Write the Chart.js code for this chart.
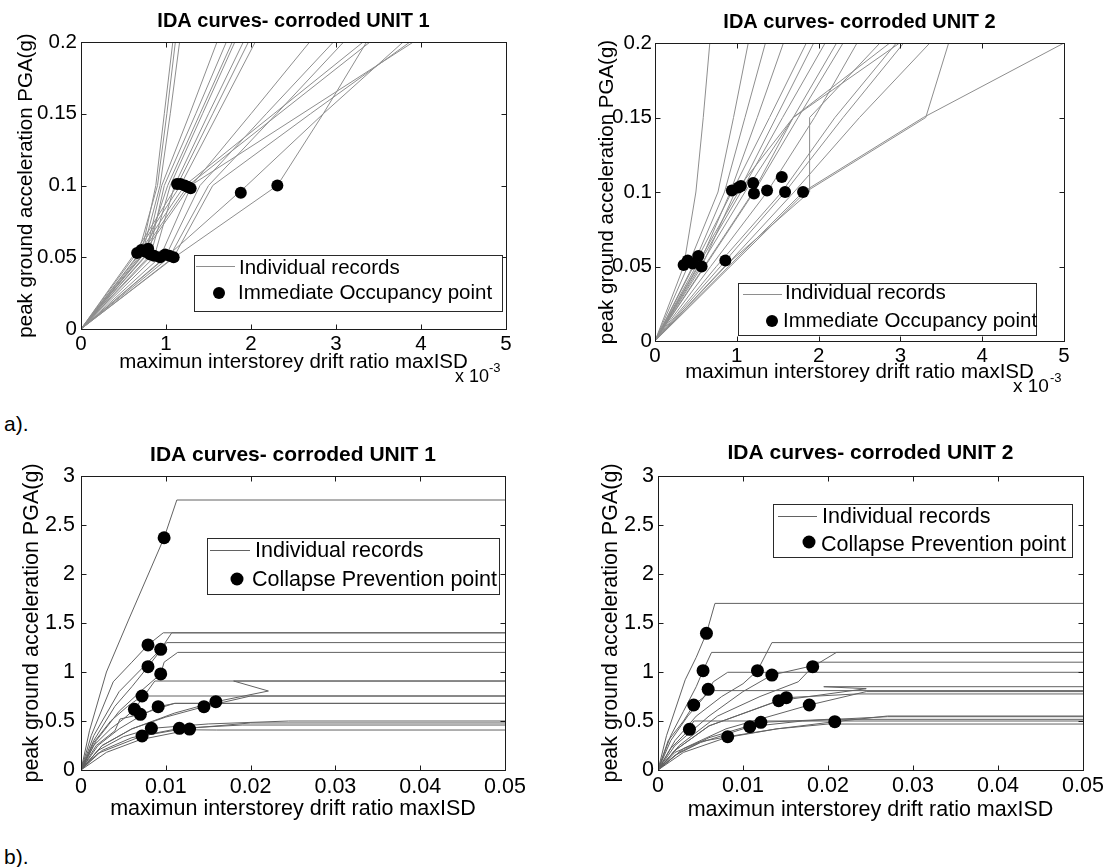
<!DOCTYPE html>
<html>
<head>
<meta charset="utf-8">
<script src="https://cdn.jsdelivr.net/npm/chart.js@4.4.1/dist/chart.umd.min.js"></script>
<style>
  body { margin: 0; background: #fff; width: 1107px; height: 867px; position: relative; overflow: hidden;
         font-family: "Liberation Sans", Arial, Helvetica, sans-serif; }
  canvas { position: absolute; }
  .tag { position: absolute; left: 4px; font-size: 21px; line-height: 1; color: #000; }
</style>
</head>
<body>
<canvas id="a1" width="545" height="410" style="left:0px;top:0px"></canvas>
<canvas id="a2" width="557" height="410" style="left:550px;top:0px"></canvas>
<canvas id="b1" width="545" height="400" style="left:0px;top:440px"></canvas>
<canvas id="b2" width="557" height="400" style="left:550px;top:440px"></canvas>
<div class="tag" style="top:413px">a).</div>
<div class="tag" style="top:846px">b).</div>
<script>
// ---- data ----
// a) panels: drift in units of 10^-3, one row per record, at the PGA steps below
const aPgaLevels = [0, 0.05, 0.1, 0.15, 0.2, 0.25];
const aDriftTicks = [0, 1, 2, 3, 4, 5];
const aPgaTicks = [0, 0.05, 0.1, 0.15, 0.2];

const a1Drift = [
  [0, 0.66, 0.90, 1.01, 1.11, 1.21],
  [0, 0.71, 0.93, 1.05, 1.16, 1.27],
  [0, 0.75, 0.95, 1.28, 1.60, 1.92],
  [0, 0.79, 0.98, 1.35, 1.71, 2.07],
  [0, 0.81, 1.05, 1.43, 1.81, 2.19],
  [0, 0.86, 1.10, 1.50, 1.91, 2.32],
  [0, 0.93, 1.30, 2.00, 2.69, 3.38],
  [0, 0.99, 1.40, 2.18, 2.97, 3.76],
  [0, 1.04, 1.50, 2.30, 3.09, 3.88],
  [0, 1.09, 1.55, 2.70, 3.87, 5.00],
  [0, 0.60, 1.13, 1.55, 1.97, 2.39],
  [0, 0.62, 1.17, 1.61, 2.05, 2.49],
  [0, 0.65, 1.22, 2.27, 3.32, 4.37],
  [0, 0.68, 1.26, 2.33, 3.40, 4.47],
  [0, 0.70, 1.29, 2.60, 3.91, 5.20],
  [0, 1.00, 1.95, 2.85, 3.79, 4.70],
  [0, 1.10, 2.31, 2.85, 3.36, 3.87],
  [0, 0.70, 0.88, 0.98, 1.08, 1.18],
  [0, 0.74, 1.02, 1.40, 1.78, 2.16]
];
const a1IoDrift = [0.66, 0.71, 0.75, 0.79, 0.81, 0.86, 0.93, 0.99, 1.04, 1.09, 1.13, 1.17, 1.22, 1.26, 1.29, 1.88, 2.31];
const a1IoPga   = [0.053, 0.055, 0.054, 0.056, 0.052, 0.051, 0.050, 0.052, 0.051, 0.050, 0.101, 0.101, 0.100, 0.099, 0.098, 0.095, 0.100];

const a2Drift = [
  [0, 0.35, 0.50, 0.59, 0.67, 0.75],
  [0, 0.40, 0.77, 0.96, 1.14, 1.33],
  [0, 0.46, 0.85, 1.10, 1.35, 1.60],
  [0, 0.53, 0.92, 1.25, 1.57, 1.90],
  [0, 0.57, 0.98, 1.69, 2.87, 4.00],
  [0, 0.86, 1.70, 2.50, 3.36, 4.20],
  [0, 0.47, 0.94, 1.40, 1.85, 2.30],
  [0, 0.50, 1.02, 1.48, 1.94, 2.40],
  [0, 0.52, 1.05, 1.56, 2.08, 2.60],
  [0, 0.60, 1.20, 1.69, 2.22, 2.75],
  [0, 0.61, 1.21, 1.75, 2.30, 2.85],
  [0, 0.68, 1.37, 1.95, 2.47, 3.00],
  [0, 0.75, 1.55, 2.20, 2.95, 3.70],
  [0, 0.80, 1.59, 2.30, 3.04, 3.80],
  [0, 0.90, 1.81, 3.28, 5.00, 6.70],
  [0, 0.92, 1.84, 3.31, 3.59, 3.90],
  [0, 0.85, 1.89, 1.89, 2.75, 3.60],
  [0, 0.55, 1.10, 1.69, 2.99, 4.30]
];
const a2IoDrift = [0.35, 0.40, 0.46, 0.53, 0.57, 0.86, 0.94, 1.02, 1.05, 1.20, 1.21, 1.37, 1.55, 1.59, 1.81];
const a2IoPga   = [0.051, 0.054, 0.052, 0.057, 0.050, 0.054, 0.101, 0.103, 0.104, 0.106, 0.099, 0.101, 0.110, 0.100, 0.100];

// b) panels: drift ratio and PGA pairs per record
const bDriftTicks = [0, 0.01, 0.02, 0.03, 0.04, 0.05];
const bPgaTicks = [0, 0.5, 1, 1.5, 2, 2.5, 3];

const b1Drift = [
  [0, 0.0010, 0.0030, 0.0056, 0.0098, 0.0113, 0.05],
  [0, 0.0012, 0.0038, 0.0060, 0.0079, 0.0097, 0.05],
  [0, 0.0015, 0.0045, 0.0070, 0.0094, 0.0107, 0.05],
  [0, 0.0015, 0.0040, 0.0060, 0.0079, 0.0101, 0.05],
  [0, 0.0018, 0.0045, 0.0070, 0.0094, 0.0098, 0.0114, 0.05],
  [0, 0.0015, 0.0035, 0.0055, 0.0072, 0.0077, 0.05],
  [0, 0.0015, 0.0035, 0.0050, 0.0063, 0.0087, 0.05],
  [0, 0.0018, 0.0040, 0.0046, 0.0070, 0.0110, 0.05],
  [0, 0.0020, 0.0045, 0.0070, 0.0091, 0.0111, 0.05],
  [0, 0.0025, 0.0060, 0.0100, 0.0145, 0.0200, 0.05],
  [0, 0.0025, 0.0060, 0.0110, 0.0159, 0.0221, 0.0180, 0.05],
  [0, 0.0020, 0.0050, 0.0083, 0.0150, 0.0245, 0.05],
  [0, 0.0025, 0.0060, 0.0116, 0.0190, 0.05],
  [0, 0.0030, 0.0070, 0.0128, 0.0160, 0.05],
  [0, 0.0020, 0.0072, 0.0120, 0.0200, 0.05]
];
const b1Pga = [
  [0, 0.40, 1.00, 1.53, 2.37, 2.755, 2.755],
  [0, 0.35, 0.90, 1.10, 1.276, 1.40, 1.40],
  [0, 0.35, 0.80, 1.02, 1.231, 1.40, 1.40],
  [0, 0.30, 0.65, 0.85, 1.054, 1.30, 1.30],
  [0, 0.30, 0.60, 0.80, 0.98, 1.10, 1.20, 1.20],
  [0, 0.28, 0.50, 0.65, 0.755, 0.755, 0.755],
  [0, 0.25, 0.42, 0.52, 0.619, 0.908, 0.908],
  [0, 0.25, 0.40, 0.52, 0.568, 0.68, 0.68],
  [0, 0.25, 0.42, 0.55, 0.646, 0.68, 0.68],
  [0, 0.25, 0.42, 0.54, 0.646, 0.755, 0.755],
  [0, 0.25, 0.42, 0.58, 0.697, 0.806, 0.908, 0.908],
  [0, 0.20, 0.34, 0.425, 0.47, 0.50, 0.50],
  [0, 0.20, 0.33, 0.425, 0.459, 0.459],
  [0, 0.18, 0.31, 0.41, 0.408, 0.408],
  [0, 0.17, 0.347, 0.42, 0.48, 0.48]
];
const b1CpDrift = [0.0098, 0.0079, 0.0094, 0.0079, 0.0094, 0.0072, 0.0063, 0.0070, 0.0091, 0.0145, 0.0159, 0.0083, 0.0116, 0.0128, 0.0072];
const b1CpPga   = [2.37, 1.276, 1.231, 1.054, 0.98, 0.755, 0.619, 0.568, 0.646, 0.646, 0.697, 0.425, 0.425, 0.418, 0.347];

const b2Drift = [
  [0, 0.0010, 0.0032, 0.0045, 0.0057, 0.0067, 0.05],
  [0, 0.0015, 0.0030, 0.0045, 0.0053, 0.0063, 0.05],
  [0, 0.0015, 0.0035, 0.0052, 0.0059, 0.05],
  [0, 0.0012, 0.0030, 0.0042, 0.0055, 0.0065, 0.0082, 0.05],
  [0, 0.0015, 0.0037, 0.0042, 0.05],
  [0, 0.0020, 0.0050, 0.0082, 0.0140, 0.0200, 0.05],
  [0, 0.0020, 0.0050, 0.0108, 0.0170, 0.0270, 0.05],
  [0, 0.0025, 0.0060, 0.0121, 0.0200, 0.05],
  [0, 0.0020, 0.0045, 0.0075, 0.0100, 0.0117, 0.0134, 0.05],
  [0, 0.0020, 0.0060, 0.0100, 0.0134, 0.0175, 0.0183, 0.05],
  [0, 0.0025, 0.0070, 0.0120, 0.0165, 0.0182, 0.0210, 0.05],
  [0, 0.0020, 0.0060, 0.0142, 0.0245, 0.0195, 0.05],
  [0, 0.0020, 0.0060, 0.0151, 0.0234, 0.05],
  [0, 0.0030, 0.0080, 0.0178, 0.0245, 0.05],
  [0, 0.0030, 0.0080, 0.0140, 0.0208, 0.0270, 0.05]
];
const b2Pga = [
  [0, 0.35, 0.92, 1.15, 1.395, 1.70, 1.70],
  [0, 0.35, 0.60, 0.85, 1.014, 1.20, 1.20],
  [0, 0.30, 0.55, 0.72, 0.81, 0.81],
  [0, 0.30, 0.50, 0.663, 0.75, 0.90, 0.997, 0.997],
  [0, 0.22, 0.415, 0.50, 0.50],
  [0, 0.18, 0.29, 0.34, 0.42, 0.469, 0.469],
  [0, 0.15, 0.28, 0.442, 0.50, 0.544, 0.544],
  [0, 0.18, 0.33, 0.486, 0.517, 0.517],
  [0, 0.30, 0.55, 0.75, 0.88, 1.014, 1.30, 1.30],
  [0, 0.25, 0.55, 0.80, 0.969, 1.05, 1.10, 1.10],
  [0, 0.25, 0.55, 0.75, 0.90, 1.054, 1.20, 1.20],
  [0, 0.20, 0.45, 0.707, 0.83, 0.85, 0.85],
  [0, 0.20, 0.45, 0.738, 0.776, 0.776],
  [0, 0.22, 0.42, 0.663, 0.80, 0.80],
  [0, 0.18, 0.33, 0.42, 0.493, 0.551, 0.551]
];
const b2CpDrift = [0.0057, 0.0053, 0.0059, 0.0042, 0.0037, 0.0082, 0.0108, 0.0121, 0.0117, 0.0134, 0.0182, 0.0142, 0.0151, 0.0178, 0.0208];
const b2CpPga   = [1.395, 1.014, 0.823, 0.663, 0.415, 0.340, 0.442, 0.486, 1.014, 0.969, 1.054, 0.707, 0.738, 0.663, 0.493];

// ---- drawing ----
const FONT = '"Liberation Sans", Arial, Helvetica, sans-serif';

// MATLAB-like box, inward ticks, legend and exponent label
const matlabAxes = {
  id: 'matlabAxes',
  afterDatasetsDraw(chart, args, o) {
    const ctx = chart.ctx, a = chart.chartArea;
    const xs = chart.scales.x, ys = chart.scales.y;
    const L = Math.round(a.left) + 0.5, R = Math.round(a.right) + 0.5;
    const T = Math.round(a.top) + 0.5, B = Math.round(a.bottom) + 0.5;
    ctx.save();
    ctx.strokeStyle = '#1c1c1c';
    ctx.lineWidth = 1;
    ctx.strokeRect(L, T, R - L, B - T);
    ctx.beginPath();
    xs.ticks.forEach(t => {
      const p = Math.round(xs.getPixelForValue(t.value)) + 0.5;
      ctx.moveTo(p, B); ctx.lineTo(p, B - 5);
      ctx.moveTo(p, T); ctx.lineTo(p, T + 5);
    });
    ys.ticks.forEach(t => {
      const p = Math.round(ys.getPixelForValue(t.value)) + 0.5;
      ctx.moveTo(L, p); ctx.lineTo(L + 5, p);
      ctx.moveTo(R, p); ctx.lineTo(R - 5, p);
    });
    ctx.stroke();

    ctx.fillStyle = '#000';
    ctx.textBaseline = 'middle';
    ctx.textAlign = 'left';
    if (o.exp) {
      ctx.font = o.exp[4] + 'px ' + FONT;
      ctx.fillText('x 10', o.exp[0] - o.ox, o.exp[1] - o.oy);
      ctx.font = '13px ' + FONT;
      ctx.fillText('-3', o.exp[2] - o.ox, o.exp[3] - o.oy);
    }

    const g = o.legend;
    const bx = g.box[0] - o.ox + 0.5, by = g.box[1] - o.oy + 0.5;
    ctx.fillStyle = '#fff';
    ctx.fillRect(bx, by, g.box[2] - g.box[0], g.box[3] - g.box[1]);
    ctx.strokeStyle = '#2a2a2a';
    ctx.strokeRect(bx, by, g.box[2] - g.box[0], g.box[3] - g.box[1]);
    ctx.strokeStyle = o.lineColor;
    ctx.beginPath();
    ctx.moveTo(g.line[0] - o.ox, g.line[2] - o.oy + 0.5);
    ctx.lineTo(g.line[1] - o.ox, g.line[2] - o.oy + 0.5);
    ctx.stroke();
    ctx.fillStyle = '#000';
    ctx.beginPath();
    ctx.arc(g.marker[0] - o.ox, g.marker[1] - o.oy, o.dotR, 0, Math.PI * 2);
    ctx.fill();
    ctx.font = o.size + 'px ' + FONT;
    ctx.fillText('Individual records', g.text1[0] - o.ox, g.text1[1] - o.oy);
    ctx.fillText(o.pointLabel, g.text2[0] - o.ox, g.text2[1] - o.oy);
    ctx.restore();
  }
};

const onGrid = (rows, levels) => rows.map(r => r.map((d, j) => ({ x: d, y: levels[j] })));
const onPairs = (xRows, yRows) => xRows.map((r, i) => r.map((d, j) => ({ x: d, y: yRows[i][j] })));
const pts = (xs, ys) => xs.map((x, i) => ({ x: x, y: ys[i] }));
const fmt = v => String(+v.toFixed(3));

const panels = [
  { id: 'a1', ox: 0, oy: 0, w: 545, h: 410, area: [81, 42, 506, 329], size: 20.5, titleSize: 20, titleY: 21,
    title: 'IDA curves- corroded UNIT 1', xMax: 5, yMax: 0.2, xTicks: aDriftTicks, yTicks: aPgaTicks,
    records: onGrid(a1Drift, aPgaLevels), points: pts(a1IoDrift, a1IoPga), pointLabel: 'Immediate Occupancy point',
    lineColor: '#8e8e8e', dotR: 6, yTitleX: 26, yTickPad: 4, xTickY: 344, xTitleY: 362, exp: [455, 377, 489, 368, 18],
    legend: { box: [194, 255, 502, 311], line: [196, 235, 266], text1: [239, 268], marker: [219, 293], text2: [238, 293] } },
  { id: 'a2', ox: 550, oy: 0, w: 557, h: 410, area: [655, 43, 1064, 341], size: 20.5, titleSize: 20, titleY: 22,
    title: 'IDA curves- corroded UNIT 2', xMax: 5, yMax: 0.2, xTicks: aDriftTicks, yTicks: aPgaTicks,
    records: onGrid(a2Drift, aPgaLevels), points: pts(a2IoDrift, a2IoPga), pointLabel: 'Immediate Occupancy point',
    lineColor: '#8e8e8e', dotR: 6, yTitleX: 607, yTickPad: 3, xTickY: 356, xTitleY: 372, exp: [1013, 387, 1050, 378, 19],
    legend: { box: [738, 283, 1036, 335], line: [743, 782, 294], text1: [785, 293], marker: [772, 321], text2: [783, 321] } },
  { id: 'b1', ox: 0, oy: 440, w: 545, h: 400, area: [81, 476, 505, 770], size: 21.5, titleSize: 21, titleY: 455,
    title: 'IDA curves- corroded UNIT 1', xMax: 0.05, yMax: 3, xTicks: bDriftTicks, yTicks: bPgaTicks,
    records: onPairs(b1Drift, b1Pga), points: pts(b1CpDrift, b1CpPga), pointLabel: 'Collapse Prevention point',
    lineColor: '#626262', dotR: 6.5, yTitleX: 32, yTickPad: 6, xTickY: 787, xTitleY: 809, exp: null,
    legend: { box: [207, 538, 499, 594], line: [210, 250, 550], text1: [255, 551], marker: [237, 579], text2: [252, 580] } },
  { id: 'b2', ox: 550, oy: 440, w: 557, h: 400, area: [658, 476, 1083, 770], size: 21.5, titleSize: 21, titleY: 453,
    title: 'IDA curves- corroded UNIT 2', xMax: 0.05, yMax: 3, xTicks: bDriftTicks, yTicks: bPgaTicks,
    records: onPairs(b2Drift, b2Pga), points: pts(b2CpDrift, b2CpPga), pointLabel: 'Collapse Prevention point',
    lineColor: '#626262', dotR: 6.5, yTitleX: 611, yTickPad: 4, xTickY: 786, xTitleY: 810, exp: null,
    legend: { box: [773, 504, 1072, 557], line: [778, 817, 516], text1: [822, 517], marker: [809, 542], text2: [821, 545] } }
];

panels.forEach(p => {
  const half = p.size * 0.6;
  const titlePadTop = p.titleY - p.oy - p.titleSize * 0.6;
  const titlePadBottom = p.area[1] - p.oy - titlePadTop - p.titleSize * 1.2;
  const datasets = [{
    data: p.points, showLine: false, pointRadius: p.dotR, pointHoverRadius: p.dotR,
    pointBackgroundColor: '#000', pointBorderColor: '#000', pointBorderWidth: 0, order: 0
  }];
  p.records.forEach(r => datasets.push({
    data: r, showLine: true, borderColor: p.lineColor, borderWidth: 1, pointRadius: 0,
    pointHoverRadius: 0, tension: 0, fill: false, order: 1
  }));
  const tickFont = { family: FONT, size: p.size };
  new Chart(document.getElementById(p.id), {
    type: 'scatter',
    data: { datasets: datasets },
    options: {
      responsive: false,
      animation: false,
      devicePixelRatio: 1,
      events: [],
      layout: { padding: { left: 0, top: 0, right: p.ox + p.w - p.area[2], bottom: 0 } },
      plugins: {
        legend: { display: false },
        tooltip: { enabled: false },
        title: {
          display: true, text: p.title, fullSize: false, color: '#000',
          font: { family: FONT, size: p.titleSize, weight: 'bold', lineHeight: 1.2 },
          padding: { top: titlePadTop, bottom: titlePadBottom }
        },
        matlabAxes: {
          ox: p.ox, oy: p.oy, size: p.size, exp: p.exp, legend: p.legend, lineColor: p.lineColor,
          dotR: p.dotR, pointLabel: p.pointLabel
        }
      },
      scales: {
        x: {
          type: 'linear', min: 0, max: p.xMax,
          afterBuildTicks: s => { s.ticks = p.xTicks.map(v => ({ value: v })); },
          afterFit: s => { s.height = p.oy + p.h - p.area[3]; },
          ticks: { font: tickFont, color: '#000', padding: p.xTickY - p.area[3] - half, maxRotation: 0, autoSkip: false, callback: fmt },
          grid: { display: false, drawTicks: false },
          border: { display: false },
          title: { display: true, text: 'maximun interstorey drift ratio maxISD', color: '#000', font: tickFont,
                   padding: { top: 0, bottom: p.oy + p.h - p.xTitleY - half } }
        },
        y: {
          type: 'linear', min: 0, max: p.yMax,
          afterBuildTicks: s => { s.ticks = p.yTicks.map(v => ({ value: v })); },
          afterFit: s => { s.width = p.area[0] - p.ox; },
          ticks: { font: tickFont, color: '#000', padding: p.yTickPad, autoSkip: false, callback: fmt },
          grid: { display: false, drawTicks: false },
          border: { display: false },
          title: { display: true, text: 'peak ground acceleration PGA(g)', color: '#000', font: tickFont,
                   padding: { top: p.yTitleX - p.ox - half, bottom: 0 } }
        }
      }
    },
    plugins: [matlabAxes]
  });
});
</script>
</body>
</html>
